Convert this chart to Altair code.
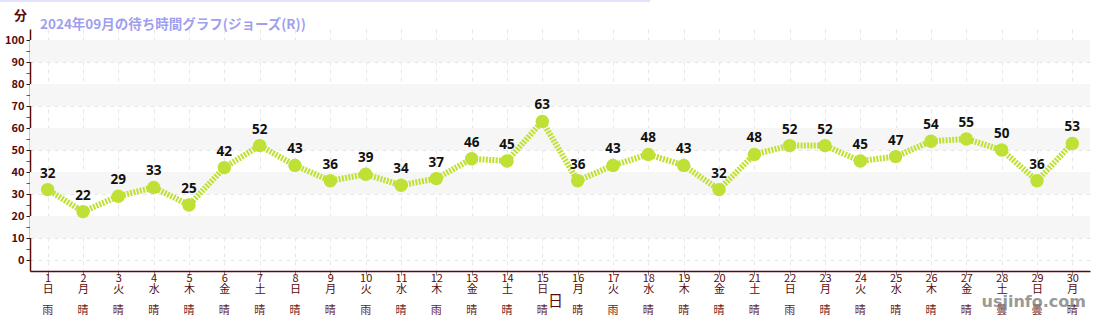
import altair as alt
import pandas as pd
import json

days = list(range(1, 31))
waits = [32, 22, 29, 33, 25, 42, 52, 43, 36, 39, 34, 37, 46, 45, 63,
         36, 43, 48, 43, 32, 48, 52, 52, 45, 47, 54, 55, 50, 36, 53]
weekdays = ["日", "月", "火", "水", "木", "金", "土", "日", "月", "火",
            "水", "木", "金", "土", "日", "月", "火", "水", "木", "金",
            "土", "日", "月", "火", "水", "木", "金", "土", "日", "月"]
weather = ["雨", "晴", "晴", "晴", "晴", "晴", "晴", "晴", "晴", "雨",
           "晴", "雨", "晴", "晴", "晴", "晴", "雨", "晴", "晴", "晴",
           "晴", "雨", "晴", "晴", "晴", "晴", "晴", "曇", "曇", "晴"]
band_starts = [10, 30, 50, 70, 90]
y_ticks = list(range(0, 101, 5))

TITLE = "2024年09月の待ち時間グラフ(ジョーズ(R))"
FONT = "Noto Sans CJK JP"
MAROON = "#5a0a0a"
LINE = "#bfe034"
W, H = 1060, 242

df = pd.DataFrame({"day": days, "wait": waits, "weather": weather})
bands = pd.DataFrame({"y0": band_starts, "y1": [b + 10 for b in band_starts]})

wd_js = json.dumps(weekdays, ensure_ascii=False)
label_expr = f"[datum.label, {wd_js}[datum.value-1]]"

xscale = alt.Scale(domain=[0.5, 30.5], nice=False, zero=False)
yscale = alt.Scale(domain=[-5, 105], nice=False, zero=False)

x_axis = alt.Axis(
    values=days, labelExpr=label_expr, title="日",
    labelFont=FONT, labelFontSize=11, labelColor=MAROON, labelLineHeight=11.5,
    labelPadding=-3, labelAngle=0, labelOverlap=False, labelBaseline="top",
    tickColor="#888888", tickSize=4, domainColor=MAROON, domainWidth=1.5,
    grid=True, gridColor="#e6e6e6", gridDash=[4, 4],
    titleFont=FONT, titleFontSize=15, titleColor=MAROON, titleFontWeight="normal",
    titleY=29, titleX=525, titleBaseline="middle",
)
y_axis = alt.Axis(
    values=y_ticks, title="分",
    labelExpr="datum.value % 10 == 0 ? datum.label : ''",
    labelFont=FONT, labelFontSize=11, labelColor=MAROON, labelFontWeight="bold",
    labelPadding=2, labelOverlap=False,
    tickColor={"condition": {"test": "datum.value % 10 == 0", "value": "#222222"}, "value": "#dd2222"},
    tickSize=4,
    domainColor=MAROON, domainWidth=1.5,
    grid=True, gridColor="#e6e6e6", gridDash=[4, 4],
    gridOpacity={"condition": {"test": "datum.value % 10 == 0", "value": 1}, "value": 0},
    titleFont=FONT, titleFontSize=13, titleColor=MAROON, titleFontWeight="bold",
    titleAngle=0, titleX=-10, titleY=-14, titleAlign="center", titleBaseline="middle",
)

band_layer = alt.Chart(bands).mark_rect(color="#f6f6f6").encode(
    y=alt.Y("y0:Q", scale=yscale, axis=y_axis),
    y2="y1:Q",
    x=alt.value(0), x2=alt.value(W),
)

base = alt.Chart(df).encode(
    x=alt.X("day:Q", scale=xscale, axis=x_axis),
    y=alt.Y("wait:Q", scale=yscale, axis=y_axis),
)
line = base.mark_line(color=LINE, strokeWidth=6, strokeDash=[2, 1.3])
points = base.mark_circle(color=LINE, size=180, opacity=1)
labels = base.mark_text(dy=-16, font="Noto Sans", fontSize=13.5, fontWeight="bold",
                        color="#111111").encode(text="wait:Q")

weather_row = alt.Chart(df).mark_text(
    font=FONT, fontSize=11, color="#6a1a1a", baseline="middle"
).encode(
    x=alt.X("day:Q", scale=xscale, axis=x_axis),
    y=alt.value(H + 40),
    text="weather:N",
)

wm = alt.Chart(pd.DataFrame({"t": ["usjinfo.com"]})).mark_text(
    font="DejaVu Sans", fontSize=16, fontWeight="bold", color="#808080", opacity=0.8,
    align="right", baseline="middle"
).encode(text="t:N", x=alt.value(W - 4), y=alt.value(H + 31))

top_rule = alt.Chart(pd.DataFrame({"a": [0]})).mark_rule(
    color="#e2e2fb", strokeWidth=2
).encode(x=alt.value(-30), x2=alt.value(620), y=alt.value(-28))

chart = alt.layer(band_layer, line, points, labels, weather_row, wm, top_rule).properties(
    width=W, height=H,
    title=alt.TitleParams(TITLE, anchor="start", orient="top", offset=0, dx=10, dy=45,
                          font=FONT, fontSize=13.5, fontWeight="bold", color="#9f9ff0",
                          baseline="bottom", frame="group"),
    autosize=alt.AutoSizeParams(type="none"),
    padding={"left": 30, "top": 29, "right": 10, "bottom": 49},
).configure_view(stroke=None)

chart.save("out.html", embed_options={"renderer": "svg", "actions": False})
